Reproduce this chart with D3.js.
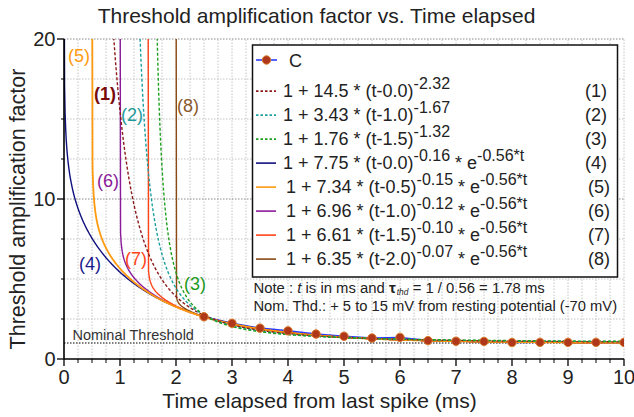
<!DOCTYPE html>
<html><head><meta charset="utf-8">
<script src="https://cdn.jsdelivr.net/npm/d3@7"></script>
<style>
html,body{margin:0;padding:0;background:#fff;}
svg{display:block;font-family:"Liberation Sans",Arial,sans-serif;}
</style></head>
<body><svg id="chart" width="634" height="417"></svg>
<script>
// ---- data ----
const curveIds   = ["(1)","(2)","(3)","(4)","(5)","(6)","(7)","(8)"];
const curveCoef  = [14.5, 3.43, 1.76, 7.75, 7.34, 6.96, 6.61, 6.35];
const curveShift = [0.0, 1.0, 1.5, 0.0, 0.5, 1.0, 1.5, 2.0];
const curvePow   = [-2.32, -1.67, -1.32, -0.16, -0.15, -0.12, -0.10, -0.07];
const curveRate  = [0, 0, 0, 0.56, 0.56, 0.56, 0.56, 0.56];
const curveShiftLabel = ["0.0","1.0","1.5","0.0","0.5","1.0","1.5","2.0"];
const curvePowLabel   = ["-2.32","-1.67","-1.32","-0.16","-0.15","-0.12","-0.10","-0.07"];
const curveCoefLabel  = ["14.5","3.43","1.76","7.75","7.34","6.96","6.61","6.35"];
const cTimes  = [2.5,3,3.5,4,4.5,5,5.5,6,6.5,7,7.5,8,8.5,9,9.5,10];
const cValues = [2.64,2.23,1.93,1.76,1.56,1.42,1.31,1.35,1.15,1.11,1.1,1.03,1.04,1.04,1.04,1.04];
const xTicks = [0,1,2,3,4,5,6,7,8,9,10];
const yTicks = [0,10,20];
const nominalThreshold = 1;

// ---- styles ----
const colors = ["#8b1a1a","#1fa0a0","#20a020","#10107f","#ff9a10","#8a1a9a","#ff4418","#8b4a13"];
const labelColors = ["#7a0a0a","#1f9a9a","#1e9a1e","#1a1a90","#ff9a10","#8a1a9a","#ff4418","#8b5a2b"];
const labelPos = [[105,94],[132,115],[195,284],[90,264],[79,56],[108,180.5],[136,259],[188,106]];
const dashed = [true,true,true,false,false,false,false,false];

const svg = d3.select("#chart");
const X0=64, X1=624, Y0=359, Y1=39;
const x = d3.scaleLinear().domain([0,10]).range([X0,X1]);
const y = d3.scaleLinear().domain([0,20]).range([Y0,Y1]);

function fit(sel, w){
  const n = sel.node(); const bw = n.getBBox().width;
  const s = w/bw; const ax = +sel.attr("x"); 
  sel.attr("transform", (sel.attr("transform")||"") + ` translate(${ax},0) scale(${s},1) translate(${-ax},0)`);
}

// grid
const g = svg.append("g");
g.selectAll(".vg").data(d3.range(1,41).map(i=>i*0.25)).join("line")
  .attr("x1",d=>x(d)).attr("x2",d=>x(d)).attr("y1",Y0).attr("y2",Y1)
  .attr("stroke","#c4c4c4").attr("stroke-width",1).attr("stroke-dasharray","1.5,1.5");
g.selectAll(".hg").data(d3.range(1,9).map(i=>i*2.5)).join("line")
  .attr("x1",X0).attr("x2",X1).attr("y1",d=>y(d)).attr("y2",d=>y(d))
  .attr("stroke",d=>d%10===0?"#8a8a8a":"#c4c4c4").attr("stroke-width",1).attr("stroke-dasharray","1.5,1.5");

// nominal threshold line
svg.append("line").attr("x1",X0).attr("x2",X1).attr("y1",y(nominalThreshold)).attr("y2",y(nominalThreshold))
  .attr("stroke","#555").attr("stroke-width",1.3).attr("stroke-dasharray","1.5,1.5");
const nt = svg.append("text").attr("x",72.5).attr("y",340).attr("font-size",15).attr("fill","#333").text("Nominal Threshold");
fit(nt,121.5);

// clip
svg.append("clipPath").attr("id","clip").append("rect").attr("x",X0).attr("y",Y1).attr("width",X1-X0).attr("height",Y0-Y1);
const plot = svg.append("g").attr("clip-path","url(#clip)");

const line = d3.line().x(d=>x(d[0])).y(d=>y(Math.min(d[1],30)));
// C series line
plot.append("path").datum(cTimes.map((t,i)=>[t,cValues[i]])).attr("d",line)
  .attr("fill","none").attr("stroke","#2a3cff").attr("stroke-width",1.5);

function curvePts(i){
  const pts=[[curveShift[i],30]];
  for(let k=1;k<=Math.round((10-curveShift[i])*100);k++){
    const t=curveShift[i]+k/100;
    const v=1+curveCoef[i]*Math.pow(t-curveShift[i],curvePow[i])*Math.exp(-curveRate[i]*t);
    pts.push([t,v]);
  }
  return pts;
}
const order=[3,5,6,7,4,0,1,2];
order.forEach(i=>{
  plot.append("path").datum(curvePts(i)).attr("d",line).attr("fill","none")
    .attr("stroke",colors[i]).attr("stroke-width",dashed[i]?1.4:(i===4?1.8:1.4))
    .attr("stroke-dasharray",dashed[i]?"3,2":null);
});
// C markers
plot.selectAll(".cm").data(cTimes.map((t,i)=>[t,cValues[i]])).join("circle")
  .attr("cx",d=>x(d[0])).attr("cy",d=>y(d[1])).attr("r",4.2)
  .attr("fill","#b0381a").attr("stroke","#d9782a").attr("stroke-width",1);

// curve labels
curveIds.forEach((id,i)=>{
  svg.append("text").attr("x",labelPos[i][0]).attr("y",labelPos[i][1]).attr("dy","0.36em")
    .attr("text-anchor","middle").attr("font-size",18).attr("fill",labelColors[i])
    .attr("font-weight",i===0?"bold":null).text(id);
});

// axes
const ax = svg.append("g");
ax.append("line").attr("x1",X0).attr("x2",X1).attr("y1",Y0).attr("y2",Y0).attr("stroke","#000").attr("stroke-width",1.6);
ax.append("line").attr("x1",X0).attr("x2",X0).attr("y1",Y0).attr("y2",Y1).attr("stroke","#000").attr("stroke-width",1.6);
ax.selectAll(".xm").data(d3.range(1,40).map(i=>i*0.25).filter(v=>v%1!==0)).join("line")
  .attr("x1",d=>x(d)).attr("x2",d=>x(d)).attr("y1",Y0).attr("y2",Y0+4).attr("stroke","#000");
ax.selectAll(".xM").data(xTicks).join("line")
  .attr("x1",d=>x(d)).attr("x2",d=>x(d)).attr("y1",Y0).attr("y2",Y0+7).attr("stroke","#000").attr("stroke-width",1.3);
ax.selectAll(".xl").data(xTicks).join("text").attr("x",d=>x(d)).attr("y",383.5)
  .attr("text-anchor","middle").attr("font-size",20).attr("fill","#222").text(d=>d);
ax.selectAll(".ym").data([2.5,5,7.5,12.5,15,17.5]).join("line")
  .attr("x1",X0-3).attr("x2",X0).attr("y1",d=>y(d)).attr("y2",d=>y(d)).attr("stroke","#000");
ax.selectAll(".yM").data(yTicks).join("line")
  .attr("x1",X0-7).attr("x2",X0).attr("y1",d=>y(d)).attr("y2",d=>y(d)).attr("stroke","#000").attr("stroke-width",1.3);
ax.selectAll(".yl").data(yTicks).join("text").attr("x",55.5).attr("y",d=>y(d)).attr("dy","0.36em")
  .attr("text-anchor","end").attr("font-size",20).attr("fill","#222").text(d=>d);

// titles
svg.append("text").attr("x",316.5).attr("y",23).attr("text-anchor","middle").attr("font-size",21).attr("fill","#222")
  .text("Threshold amplification factor vs. Time elapsed");
svg.append("text").attr("x",319.5).attr("y",408).attr("text-anchor","middle").attr("font-size",21).attr("fill","#222")
  .text("Time elapsed from last spike (ms)");
svg.append("text").attr("x",0).attr("y",0).attr("text-anchor","middle").attr("font-size",21.5).attr("fill","#222")
  .attr("transform","translate(25,209) rotate(-90)").text("Threshold amplification factor");

// legend
const lg = svg.append("g");
lg.append("rect").attr("x",252.5).attr("y",45).attr("width",365).attr("height",232)
  .attr("fill","#fff").attr("stroke","#111").attr("stroke-width",1.5);
lg.append("line").attr("x1",256).attr("x2",277).attr("y1",60).attr("y2",60).attr("stroke","#2a3cff").attr("stroke-width",1.6);
lg.append("circle").attr("cx",266.5).attr("cy",60).attr("r",4.2).attr("fill","#b0381a").attr("stroke","#d9782a");
lg.append("text").attr("x",289).attr("y",66.7).attr("font-size",18).attr("fill","#222").text("C");
curveIds.forEach((id,i)=>{
  const by = 96.6 + 24*i;
  const xoff = i>=4?3:0;
  lg.append("line").attr("x1",256).attr("x2",276).attr("y1",by-5.5).attr("y2",by-5.5)
    .attr("stroke",colors[i]).attr("stroke-width",1.6).attr("stroke-dasharray",dashed[i]?"2.5,2":null);
  const t = lg.append("text").attr("x",283+xoff).attr("y",by).attr("font-size",18).attr("fill","#222");
  t.append("tspan").text(`1 + ${curveCoefLabel[i]} * (t-${curveShiftLabel[i]})`);
  t.append("tspan").attr("font-size",16).attr("dy",-8).text(curvePowLabel[i]);
  if(curveRate[i]>0){
    t.append("tspan").attr("dy",8).text(" * e");
    t.append("tspan").attr("font-size",16).attr("dy",-8).text(`-${curveRate[i]}*t`);
  }
  lg.append("text").attr("x",607+xoff).attr("y",by).attr("text-anchor","end").attr("font-size",18).attr("fill","#222").text(id);
});

// notes
const n1 = svg.append("text").attr("x",253.5).attr("y",293.2).attr("font-size",15).attr("fill","#222");
n1.append("tspan").text("Note : ");
n1.append("tspan").attr("font-style","italic").text("t");
n1.append("tspan").text(" is in ms and ");
n1.append("tspan").attr("font-size",15.5).attr("font-weight","bold").text("τ");
n1.append("tspan").attr("font-size",8.5).attr("font-style","italic").attr("dx",1).attr("dy",2).text("thd");
n1.append("tspan").attr("dy",-2).text(" = 1 / 0.56 = 1.78 ms");
fit(n1,291.5);
const n2 = svg.append("text").attr("x",253.5).attr("y",311).attr("font-size",15.5).attr("fill","#222")
  .text("Nom. Thd.: + 5 to 15 mV from resting potential (-70 mV)");
fit(n2,364);
</script></body></html>
